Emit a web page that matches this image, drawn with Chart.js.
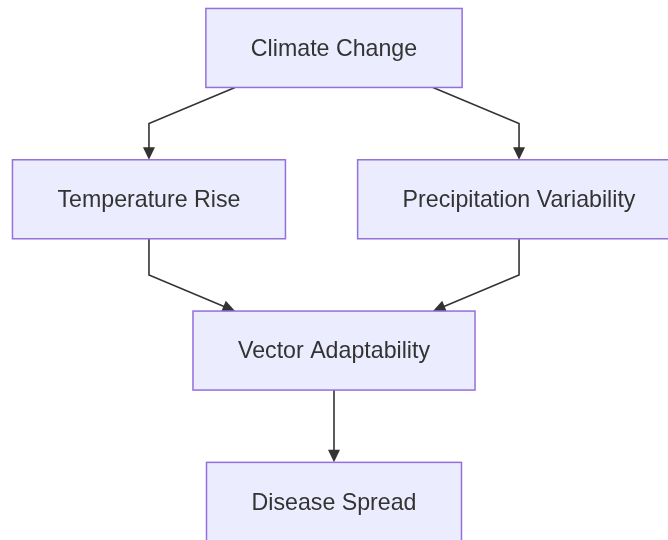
<!DOCTYPE html>
<html>
<head>
<meta charset="utf-8">
<script src="https://cdn.jsdelivr.net/npm/chart.js@4/dist/chart.umd.min.js"></script>
<style>
    html, body { margin: 0; padding: 0; background: #ffffff; }
    #wrap { width: 668px; height: 540px; position: relative; }
</style>
</head>
<body>
<div id="wrap"><canvas id="flow"></canvas></div>
<script>
// Nodes of the flowchart
const nodeLabels = ['Climate Change', 'Temperature Rise', 'Precipitation Variability', 'Vector Adaptability', 'Disease Spread'];
const nodeColumn = [0, -1, 1, 0, 0];   // -1 left, 0 centre, 1 right
const nodeLevel = [0, 1, 1, 2, 3];     // rank, top to bottom

// Edges (index into the node arrays)
const edgeFrom = [0, 0, 1, 2, 3];
const edgeTo = [1, 2, 3, 3, 4];

// Style
const FONT = '23.2px "Liberation Sans", Arial, sans-serif';
const FILL = '#ECECFF';
const BORDER = '#9370DB';
const INK = '#333333';
const BOX_PAD_X = 45;
const BOX_HALF_H = 39.5;
const SIDE_SHIFT = 99;   // where a diagonal edge leaves / enters a centre node

const points = nodeLabels.map((label, i) => ({ x: nodeColumn[i], y: nodeLevel[i] }));

function boxOf(chart, i) {
    const ctx = chart.ctx;
    ctx.font = FONT;
    const cx = chart.scales.x.getPixelForValue(nodeColumn[i]);
    const cy = chart.scales.y.getPixelForValue(nodeLevel[i]);
    const w = ctx.measureText(nodeLabels[i]).width + BOX_PAD_X * 2;
    return { cx, cy, left: cx - w / 2, right: cx + w / 2, top: cy - BOX_HALF_H, bottom: cy + BOX_HALF_H, w };
}

function arrowHead(ctx, x1, y1, x2, y2) {
    const ang = Math.atan2(y2 - y1, x2 - x1);
    const len = 12.5, half = 6;
    ctx.beginPath();
    ctx.moveTo(x2, y2);
    ctx.lineTo(x2 - len * Math.cos(ang) + half * Math.sin(ang), y2 - len * Math.sin(ang) - half * Math.cos(ang));
    ctx.lineTo(x2 - len * Math.cos(ang) - half * Math.sin(ang), y2 - len * Math.sin(ang) + half * Math.cos(ang));
    ctx.closePath();
    ctx.fill();
}

const flowPlugin = {
    id: 'flow',
    afterDatasetsDraw(chart) {
        const ctx = chart.ctx;
        ctx.save();

        // edges
        ctx.strokeStyle = INK;
        ctx.fillStyle = INK;
        ctx.lineWidth = 1.6;
        edgeFrom.forEach((f, k) => {
            const t = edgeTo[k];
            const a = boxOf(chart, f), b = boxOf(chart, t);
            const midY = (a.bottom + b.top) / 2;
            let pts;
            if (nodeColumn[f] === nodeColumn[t]) {
                pts = [[a.cx, a.bottom], [b.cx, b.top]];
            } else if (nodeColumn[f] === 0) {
                const s = Math.sign(nodeColumn[t]);
                pts = [[a.cx + s * SIDE_SHIFT, a.bottom], [b.cx, midY], [b.cx, b.top]];
            } else {
                const s = Math.sign(nodeColumn[f]);
                pts = [[a.cx, a.bottom], [a.cx, midY], [b.cx + s * SIDE_SHIFT, b.top]];
            }
            const n = pts.length;
            // stop the line short so the head sits on the border
            const [px, py] = pts[n - 2], [qx, qy] = pts[n - 1];
            const d = Math.hypot(qx - px, qy - py);
            const ex = qx - (qx - px) / d * 8, ey = qy - (qy - py) / d * 8;
            ctx.beginPath();
            ctx.moveTo(pts[0][0], pts[0][1]);
            for (let i = 1; i < n - 1; i++) ctx.lineTo(pts[i][0], pts[i][1]);
            ctx.lineTo(ex, ey);
            ctx.stroke();
            arrowHead(ctx, px, py, qx, qy);
        });

        // boxes
        nodeLabels.forEach((label, i) => {
            const b = boxOf(chart, i);
            ctx.fillStyle = FILL;
            ctx.fillRect(b.left, b.top, b.w, BOX_HALF_H * 2);
            ctx.strokeStyle = BORDER;
            ctx.lineWidth = 1.5;
            ctx.strokeRect(b.left, b.top, b.w, BOX_HALF_H * 2);
            ctx.fillStyle = INK;
            ctx.font = FONT;
            ctx.textAlign = 'center';
            ctx.textBaseline = 'middle';
            ctx.fillText(label, b.cx, b.cy + 1.5);
        });

        ctx.restore();
    }
};

new Chart(document.getElementById('flow'), {
    type: 'scatter',
    data: {
        datasets: [{
            data: points,
            pointRadius: 0,
            pointHoverRadius: 0
        }]
    },
    options: {
        responsive: true,
        maintainAspectRatio: false,
        animation: false,
        layout: { padding: 0 },
        plugins: { legend: { display: false }, tooltip: { enabled: false } },
        scales: {
            x: { display: false, min: -1.805, max: 1.805 },
            y: { display: false, reverse: true, min: -0.317, max: 3.252 }
        }
    },
    plugins: [flowPlugin]
});
</script>
</body>
</html>
